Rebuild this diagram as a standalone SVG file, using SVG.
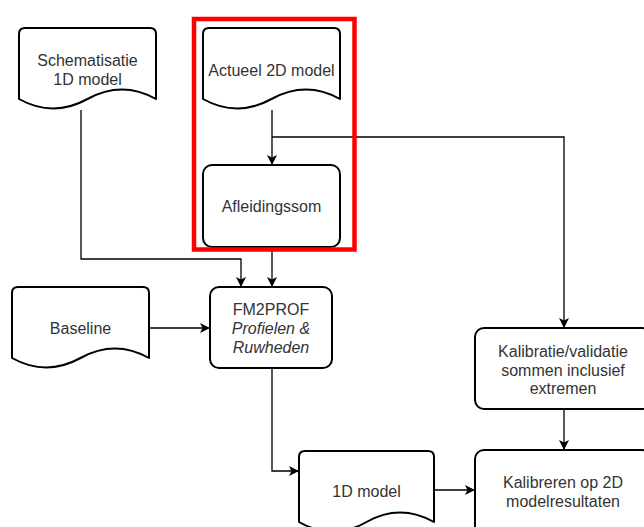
<svg xmlns="http://www.w3.org/2000/svg" width="644" height="527" viewBox="0 0 644 527">
  <style>
    .box { fill: #ffffff; stroke: #000000; stroke-width: 2; }
    .doc { fill: #ffffff; stroke: #000000; stroke-width: 2; stroke-linejoin: round; }
    .lbl { font-family: "Liberation Sans", Arial, Helvetica, sans-serif; font-size: 16px; fill: #333333; text-anchor: middle; }
    .it { font-style: italic; }
    .edge { fill: none; stroke: #000000; stroke-width: 1.3; marker-end: url(#arrow); }
    .frame { fill: none; stroke: #ff0000; stroke-width: 4.5; }
  </style>
  <defs>
    <marker id="arrow" viewBox="0 0 10 10" refX="10" refY="5" markerWidth="10" markerHeight="10" markerUnits="userSpaceOnUse" orient="auto">
      <path d="M0,0 L10,5 L0,10 L2.5,5 Z" fill="#000000"/>
    </marker>
  </defs>

  <rect width="644" height="527" fill="#ffffff"/>

  <!-- connectors -->
  <g id="connectors">
    <path class="edge" d="M272,110 L272,165"/>
    <path class="edge" d="M272,137 L564,137 L564,328"/>
    <path class="edge" d="M81,110 L81,259 L241,259 L241,287"/>
    <path class="edge" d="M272,247 L272,287"/>
    <path class="edge" d="M149,328 L210,328"/>
    <path class="edge" d="M272,368 L272,471 L299,471"/>
    <path class="edge" d="M434,490 L475,490"/>
    <path class="edge" d="M564,409 L564,450"/>
  </g>

  <!-- document: Schematisatie 1D model -->
  <g id="schematisatie">
    <path class="doc" d="M19,99 L19,34 Q19,28 25,28 L150,28 Q156,28 156,34 L156,99 Q122,80 87.5,99 Q53,118 19,99 Z"/>
    <text class="lbl" x="87.5" y="66">Schematisatie</text>
    <text class="lbl" x="87.5" y="85">1D model</text>
  </g>

  <!-- document: Actueel 2D model -->
  <g id="actueel2d">
    <path class="doc" d="M203,99 L203,34 Q203,28 209,28 L334,28 Q340,28 340,34 L340,99 Q306,80 271.5,99 Q237,118 203,99 Z"/>
    <text class="lbl" x="271.5" y="76">Actueel 2D model</text>
  </g>

  <!-- process: Afleidingssom -->
  <g id="afleidingssom">
    <rect class="box" x="203" y="165" width="137" height="82" rx="9"/>
    <text class="lbl" x="271.5" y="212">Afleidingssom</text>
  </g>

  <!-- highlight frame around the 2D model part -->
  <g id="highlight">
    <rect class="frame" x="194" y="19" width="160.5" height="230.5"/>
  </g>

  <!-- document: Baseline -->
  <g id="baseline">
    <path class="doc" d="M12,358 L12,293 Q12,287 18,287 L143,287 Q149,287 149,293 L149,358 Q115,339 80.5,358 Q46,377 12,358 Z"/>
    <text class="lbl" x="80.5" y="334">Baseline</text>
  </g>

  <!-- process: FM2PROF -->
  <g id="fm2prof">
    <rect class="box" x="210" y="287" width="122" height="81" rx="9"/>
    <text class="lbl" x="271" y="315">FM2PROF</text>
    <text class="lbl it" x="271" y="334">Profielen &amp;</text>
    <text class="lbl it" x="271" y="353">Ruwheden</text>
  </g>

  <!-- process: Kalibratie/validatie -->
  <g id="kalibratie">
    <rect class="box" x="475" y="328" width="176" height="81" rx="9"/>
    <text class="lbl" x="563" y="357">Kalibratie/validatie</text>
    <text class="lbl" x="563" y="376">sommen inclusief</text>
    <text class="lbl" x="563" y="394">extremen</text>
  </g>

  <!-- document: 1D model -->
  <g id="model1d">
    <path class="doc" d="M299,522 L299,457 Q299,451 305,451 L428,451 Q434,451 434,457 L434,522 Q400,503 366.5,522 Q333,541 299,522 Z"/>
    <text class="lbl" x="366.5" y="497">1D model</text>
  </g>

  <!-- process: Kalibreren op 2D modelresultaten -->
  <g id="kalibreren">
    <rect class="box" x="475" y="450" width="176" height="90" rx="9"/>
    <text class="lbl" x="563" y="488">Kalibreren op 2D</text>
    <text class="lbl" x="563" y="507">modelresultaten</text>
  </g>
</svg>
